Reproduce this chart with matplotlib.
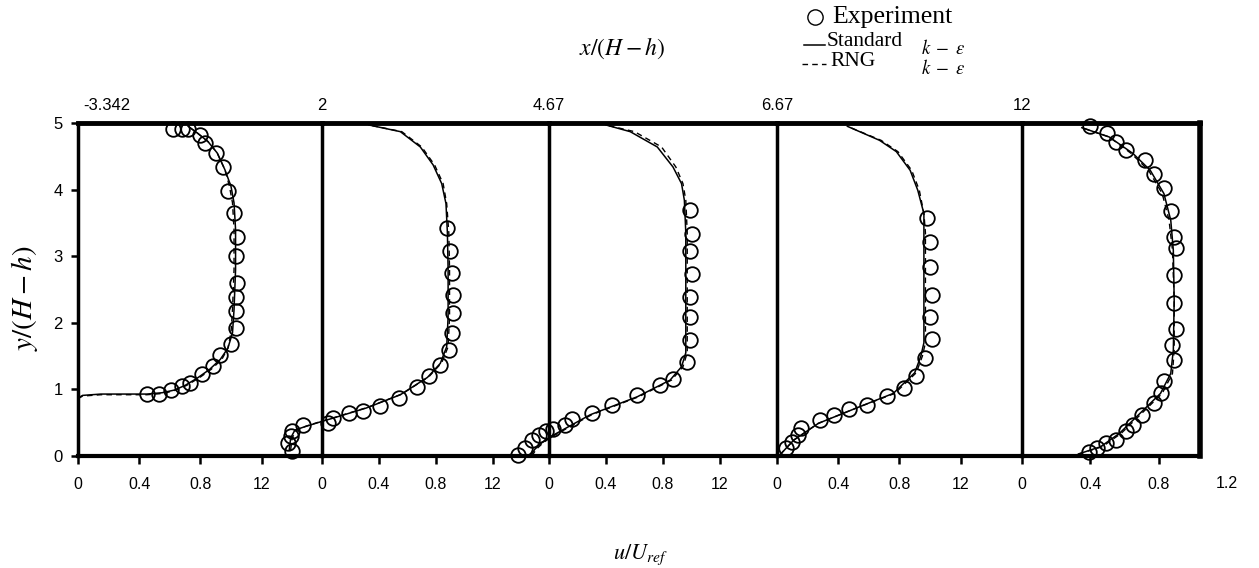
import numpy as np
import matplotlib
matplotlib.use('Agg')
import matplotlib.pyplot as plt
from matplotlib.lines import Line2D

plt.rcParams['mathtext.fontset'] = 'stix'
plt.rcParams['font.family'] = ['Liberation Sans', 'DejaVu Sans']

# station labels x/(H-h)
stations = ['-3.342', '2', '4.67', '6.67', '12']
tick_vals = [0, 0.4, 0.8, 1.2]
tick_labels = ['0', '0.4', '0.8', '12']

# experiment (u/Uref, y/(H-h)) per station
exp_u1 = [0.62, 0.68, 0.72, 0.80, 0.83, 0.90, 0.95, 0.98, 1.02, 1.04, 1.03, 1.04, 1.03, 1.03, 1.03, 1.00, 0.93, 0.88, 0.81, 0.73, 0.68, 0.61, 0.53, 0.45]
exp_y1 = [4.91, 4.91, 4.91, 4.82, 4.70, 4.55, 4.34, 3.98, 3.65, 3.29, 3.00, 2.60, 2.39, 2.18, 1.92, 1.68, 1.52, 1.35, 1.23, 1.10, 1.05, 0.99, 0.93, 0.93]
exp_u2 = [-0.21, -0.24, -0.22, -0.21, -0.13, 0.04, 0.08, 0.19, 0.29, 0.41, 0.54, 0.67, 0.75, 0.83, 0.89, 0.91, 0.92, 0.92, 0.91, 0.90, 0.875]
exp_y2 = [0.07, 0.19, 0.30, 0.38, 0.46, 0.50, 0.57, 0.65, 0.68, 0.75, 0.87, 1.03, 1.20, 1.37, 1.59, 1.84, 2.14, 2.42, 2.75, 3.08, 3.42]
exp_u3 = [-0.22, -0.17, -0.12, -0.07, -0.02, 0.03, 0.11, 0.16, 0.30, 0.44, 0.62, 0.78, 0.87, 0.97, 0.99, 0.99, 0.99, 1.00, 0.99, 1.00, 0.99]
exp_y3 = [0.02, 0.12, 0.24, 0.32, 0.37, 0.40, 0.47, 0.55, 0.65, 0.76, 0.91, 1.07, 1.15, 1.41, 1.74, 2.08, 2.39, 2.73, 3.08, 3.33, 3.69]
exp_u4 = [0.06, 0.10, 0.14, 0.16, 0.28, 0.37, 0.47, 0.59, 0.72, 0.83, 0.91, 0.97, 1.01, 1.00, 1.01, 1.00, 1.00, 0.98]
exp_y4 = [0.12, 0.21, 0.32, 0.42, 0.54, 0.61, 0.70, 0.77, 0.90, 1.02, 1.20, 1.47, 1.76, 2.09, 2.42, 2.84, 3.22, 3.58]
exp_u5 = [0.39, 0.44, 0.49, 0.55, 0.61, 0.65, 0.70, 0.77, 0.81, 0.83, 0.89, 0.88, 0.90, 0.89, 0.89, 0.90, 0.89, 0.87, 0.83, 0.77, 0.72, 0.61, 0.55, 0.50, 0.40]
exp_y5 = [0.06, 0.12, 0.19, 0.24, 0.38, 0.47, 0.62, 0.80, 0.94, 1.12, 1.44, 1.67, 1.91, 2.30, 2.72, 3.12, 3.29, 3.68, 4.02, 4.24, 4.45, 4.59, 4.72, 4.85, 4.95]

# standard k-epsilon
std_u1 = [0.00, 0.03, 0.15, 0.30, 0.45, 0.55, 0.63, 0.70, 0.78, 0.86, 0.93, 0.98, 1.01, 1.02, 1.03, 1.03, 1.02, 1.00, 0.96, 0.91, 0.85, 0.78, 0.72]
std_y1 = [0.87, 0.91, 0.93, 0.93, 0.93, 0.95, 0.99, 1.06, 1.17, 1.30, 1.45, 1.62, 1.85, 2.20, 2.80, 3.40, 3.80, 4.05, 4.30, 4.55, 4.72, 4.85, 4.95]
std_u2 = [-0.23, -0.22, -0.19, -0.12, 0.00, 0.08, 0.31, 0.55, 0.74, 0.83, 0.875, 0.885, 0.885, 0.88, 0.87, 0.84, 0.78, 0.69, 0.55, 0.33]
std_y2 = [0.09, 0.27, 0.39, 0.44, 0.52, 0.57, 0.72, 0.92, 1.18, 1.39, 1.64, 2.09, 2.80, 3.35, 3.79, 4.09, 4.37, 4.64, 4.87, 4.97]
std_u3 = [-0.13, -0.10, -0.05, 0.01, 0.29, 0.62, 0.85, 0.93, 0.96, 0.96, 0.95, 0.93, 0.87, 0.76, 0.57, 0.40]
std_y3 = [0.00, 0.10, 0.20, 0.29, 0.62, 0.89, 1.14, 1.34, 1.55, 3.35, 3.84, 4.09, 4.34, 4.64, 4.87, 4.97]
std_u4 = [0.02, 0.11, 0.27, 0.54, 0.76, 0.90, 0.94, 0.96, 0.96, 0.96, 0.92, 0.87, 0.78, 0.67, 0.46]
std_y4 = [0.02, 0.24, 0.49, 0.74, 0.94, 1.25, 1.50, 1.70, 3.35, 3.64, 3.99, 4.29, 4.57, 4.74, 4.95]
std_u5 = [0.33, 0.46, 0.57, 0.71, 0.81, 0.87, 0.885, 0.89, 0.885, 0.87, 0.83, 0.75, 0.65, 0.51, 0.35]
std_y5 = [0.03, 0.14, 0.34, 0.69, 0.94, 1.24, 1.59, 2.34, 3.09, 3.54, 3.94, 4.29, 4.54, 4.79, 4.93]

# RNG k-epsilon
rng_u1 = [0.00, 0.03, 0.15, 0.30, 0.45, 0.56, 0.64, 0.71, 0.79, 0.87, 0.94, 0.98, 1.00, 1.01, 1.02, 1.02, 1.01, 0.99, 0.96, 0.91, 0.85, 0.78, 0.72]
rng_y1 = [0.86, 0.90, 0.92, 0.92, 0.92, 0.94, 0.99, 1.06, 1.17, 1.30, 1.45, 1.62, 1.85, 2.20, 2.80, 3.40, 3.80, 4.05, 4.30, 4.55, 4.72, 4.85, 4.95]
rng_u2 = [-0.22, -0.21, -0.18, -0.11, 0.01, 0.09, 0.32, 0.56, 0.75, 0.84, 0.885, 0.895, 0.895, 0.89, 0.875, 0.85, 0.79, 0.70, 0.56, 0.33]
rng_y2 = [0.09, 0.27, 0.39, 0.45, 0.53, 0.58, 0.73, 0.93, 1.19, 1.40, 1.64, 2.09, 2.80, 3.35, 3.79, 4.09, 4.37, 4.64, 4.87, 4.97]
rng_u3 = [-0.12, -0.09, -0.04, 0.02, 0.30, 0.63, 0.86, 0.94, 0.97, 0.97, 0.96, 0.94, 0.89, 0.79, 0.60, 0.40]
rng_y3 = [0.00, 0.10, 0.20, 0.29, 0.62, 0.89, 1.14, 1.34, 1.55, 3.35, 3.84, 4.09, 4.34, 4.64, 4.87, 4.97]
rng_u4 = [0.02, 0.11, 0.27, 0.54, 0.77, 0.91, 0.95, 0.97, 0.97, 0.96, 0.93, 0.88, 0.79, 0.68, 0.46]
rng_y4 = [0.02, 0.24, 0.49, 0.74, 0.94, 1.25, 1.50, 1.70, 3.35, 3.64, 3.99, 4.29, 4.57, 4.74, 4.95]
rng_u5 = [0.33, 0.47, 0.58, 0.72, 0.82, 0.88, 0.89, 0.89, 0.88, 0.86, 0.82, 0.74, 0.64, 0.51, 0.35]
rng_y5 = [0.03, 0.14, 0.34, 0.69, 0.94, 1.24, 1.59, 2.34, 3.09, 3.54, 3.94, 4.29, 4.54, 4.79, 4.93]

exp_u = [exp_u1, exp_u2, exp_u3, exp_u4, exp_u5]
exp_y = [exp_y1, exp_y2, exp_y3, exp_y4, exp_y5]
std_u = [std_u1, std_u2, std_u3, std_u4, std_u5]
std_y = [std_y1, std_y2, std_y3, std_y4, std_y5]
rng_u = [rng_u1, rng_u2, rng_u3, rng_u4, rng_u5]
rng_y = [rng_y1, rng_y2, rng_y3, rng_y4, rng_y5]

W, H = 1259, 568
fig = plt.figure(figsize=(W / 100, H / 100), dpi=100)

# panel edges in pixels and u-range of each panel
left_px = [78, 322, 549, 777, 1022]
right_px = [322, 549, 777, 1022, 1200]
umax = [1.595, 1.593, 1.600, 1.601, 1.041]
bot, top = 456, 123

for i in range(5):
    ax = fig.add_axes([left_px[i] / W, (H - bot) / H,
                       (right_px[i] - left_px[i]) / W, (bot - top) / H])
    ax.patch.set_visible(False)
    ax.set_xlim(0, umax[i])
    ax.set_ylim(0, 5)

    ax.plot(std_u[i], std_y[i], color='black', lw=1.1, clip_on=False, zorder=3)
    ax.plot(rng_u[i], rng_y[i], color='black', lw=1.0, ls=(0, (4, 3)), clip_on=False, zorder=3)
    ax.plot(exp_u[i], exp_y[i], 'o', mfc='none', mec='black', ms=10.5, mew=1.3,
            clip_on=False, zorder=4)

    ax.spines['left'].set_linewidth(2.5)
    ax.spines['bottom'].set_linewidth(3)
    ax.spines['top'].set_linewidth(3.5)
    if i < 4:
        ax.spines['right'].set_visible(False)
        ax.set_xticks(tick_vals)
        ax.set_xticklabels(tick_labels)
    else:
        ax.spines['right'].set_linewidth(4)
        ax.set_xticks(tick_vals[:3])
        ax.set_xticklabels(['0', '0.4', '0.8'])
        ax.text(1.2, -0.082, '1.2', transform=ax.get_xaxis_transform(),
                ha='center', va='center', fontsize=11.5)
    ax.tick_params(axis='x', length=6, width=1.8, pad=9, labelsize=11.5)

    if i == 0:
        ax.set_yticks([0, 1, 2, 3, 4, 5])
        ax.tick_params(axis='y', length=5, width=1.8, pad=6, labelsize=12)
    else:
        ax.set_yticks([])

    # station label above each panel
    if i == 0:
        ax.text(0.035, 1.054, stations[i], transform=ax.get_xaxis_transform(),
                ha='left', va='center', fontsize=12)
    else:
        ax.text(0.0, 1.054, stations[i], transform=ax.get_xaxis_transform(),
                ha='center', va='center', fontsize=12)

# axis titles
fig.text(25 / W, 1 - 298 / H, r'$y/(H-h)$', rotation=90, ha='center', va='center', fontsize=21)
fig.text(640 / W, 1 - 555 / H, r'$u/U_{ref}$', ha='center', va='center', fontsize=16)
fig.text(622 / W, 1 - 48 / H, r'$x/(H-h)$', ha='center', va='center', fontsize=17)

# legend drawn by hand
serif = ['Liberation Serif', 'DejaVu Serif']
fig.add_artist(Line2D([815 / W], [1 - 17 / H], marker='o', mfc='none', mec='black',
                      ms=11, mew=1.0, transform=fig.transFigure))
fig.text(832 / W, 1 - 17 / H, 'Experiment', family=serif, fontsize=18.5, ha='left', va='center')
fig.add_artist(Line2D([804 / W, 825 / W], [1 - 45 / H] * 2, color='black', lw=1.1,
                      transform=fig.transFigure))
fig.text(827 / W, 1 - 41 / H, 'Standard', family=serif, fontsize=15.5, ha='left', va='center')
fig.text(921 / W, 1 - 48 / H, r'$k\;-\;\varepsilon$', fontsize=13.5, ha='left', va='center')
fig.add_artist(Line2D([802 / W, 826 / W], [1 - 64 / H] * 2, color='black', lw=1.0,
                      ls=(0, (4, 3)), transform=fig.transFigure))
fig.text(830 / W, 1 - 61 / H, 'RNG', family=serif, fontsize=15.5, ha='left', va='center')
fig.text(921 / W, 1 - 69 / H, r'$k\;-\;\varepsilon$', fontsize=13.5, ha='left', va='center')

plt.savefig('out.png', dpi=100)
